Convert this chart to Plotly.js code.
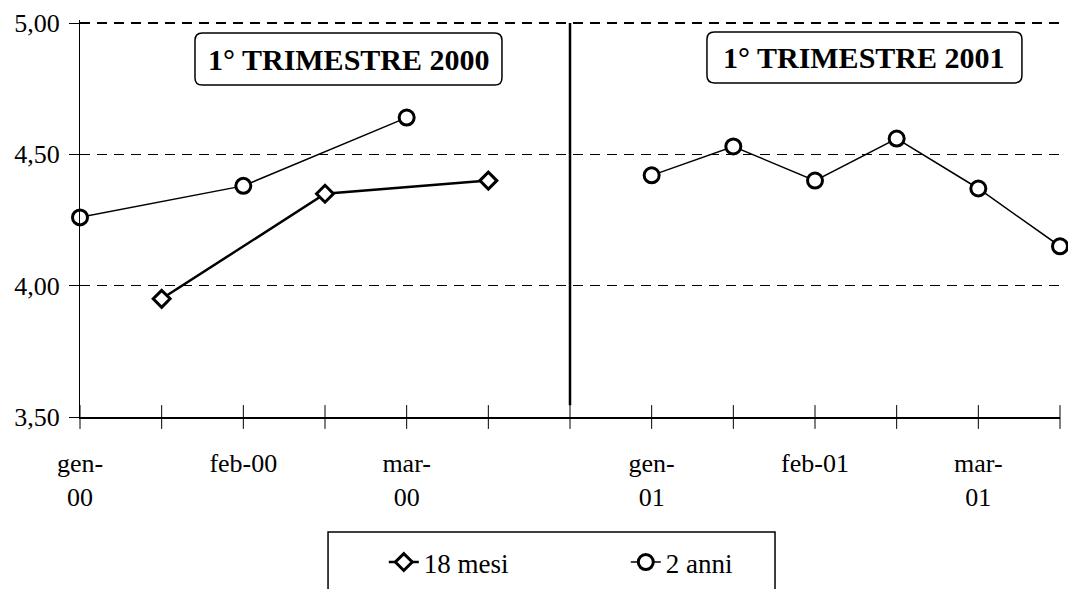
<!DOCTYPE html>
<html>
<head>
<meta charset="utf-8">
<script src="https://cdn.plot.ly/plotly-3.0.1.min.js"></script>
<style>html,body{margin:0;padding:0;background:#fff;}#chart{width:1068px;height:589px;}</style>
</head>
<body>
<div id="chart"></div>
<script>
// Slots along the x axis (half-month steps), 0..12
const slotCount = 13;
const tickPositions = [0, 2, 4, 7, 9, 11];
const tickLabels = ["gen-<br>00", "feb-00", "mar-<br>00", "gen-<br>01", "feb-01", "mar-<br>01"];

// Series: 18 mesi
const x18mesi = [1, 3, 5];
const y18mesi = [3.95, 4.35, 4.40];

// Series: 2 anni (null separates the two quarters)
const x2anni = [0, 2, 4, null, 7, 8, 9, 10, 11, 12];
const y2anni = [4.26, 4.38, 4.64, null, 4.42, 4.53, 4.40, 4.56, 4.37, 4.15];

// Y ticks
const yTickVals = [3.5, 4.0, 4.5, 5.0];
const yTickText = ["3,50", "4,00", "4,50", "5,00"];

// Box titles
const boxTitles = ["1° TRIMESTRE 2000", "1° TRIMESTRE 2001"];

const FONT = "Liberation Serif";

const allSlots = Array.from({length: slotCount}, (_, i) => i);
const tickText = allSlots.map(i => {
  const k = tickPositions.indexOf(i);
  return k >= 0 ? tickLabels[k] : "";
});
const yMin = yTickVals[0];

function roundRect(x0, x1, y0, y1, rx, ry) {
  return `M ${x0+rx},${y0} L ${x1-rx},${y0} Q ${x1},${y0} ${x1},${y0+ry} ` +
         `L ${x1},${y1-ry} Q ${x1},${y1} ${x1-rx},${y1} L ${x0+rx},${y1} ` +
         `Q ${x0},${y1} ${x0},${y1-ry} L ${x0},${y0+ry} Q ${x0},${y0} ${x0+rx},${y0} Z`;
}

const traces = [
  {
    // crossing tick marks on the category axis
    x: allSlots, y: allSlots.map(() => yMin), type: "scatter", mode: "markers",
    marker: {symbol: "line-ns-open", size: 17, color: "#000", line: {color: "#000", width: 1}},
    showlegend: false, hoverinfo: "skip", cliponaxis: false
  },
  {
    x: x18mesi, y: y18mesi, name: "18 mesi", type: "scatter", mode: "lines+markers",
    line: {color: "#000", width: 2.5},
    marker: {symbol: "diamond", size: 13, color: "#fff", line: {color: "#000", width: 3}},
    cliponaxis: false
  },
  {
    x: x2anni, y: y2anni, name: "2 anni", type: "scatter", mode: "lines+markers",
    line: {color: "#000", width: 1.5},
    marker: {symbol: "circle", size: 15, color: "#fff", line: {color: "#000", width: 3}},
    connectgaps: false,
    cliponaxis: false
  }
];

const layout = {
  width: 1068, height: 589,
  margin: {l: 80, r: 8, t: 20, b: 172},
  paper_bgcolor: "#fff", plot_bgcolor: "#fff",
  font: {family: FONT, color: "#000", size: 26},
  showlegend: true,
  legend: {
    orientation: "h", xref: "paper", yref: "container",
    x: 0.310, xanchor: "left", y: 0.0866, yanchor: "top",
    font: {family: FONT, size: 27, color: "#000"},
    bgcolor: "rgba(0,0,0,0)", borderwidth: 0,
    entrywidth: 197, entrywidthmode: "pixels"
  },
  xaxis: {
    range: [0, 12], tickmode: "array", tickvals: allSlots, ticktext: tickText,
    ticks: "", showline: true, linecolor: "#000", linewidth: 1.5,
    showgrid: false, zeroline: false, ticklabelstandoff: 22,
    tickfont: {family: FONT, size: 26, color: "#000"}, tickangle: 0
  },
  yaxis: {
    range: [3.5, 5.0115], tickmode: "array", tickvals: yTickVals, ticktext: yTickText,
    ticks: "outside", ticklen: 10, tickwidth: 1, tickcolor: "#000",
    showline: true, linecolor: "#000", linewidth: 1,
    showgrid: true, gridcolor: "#000", gridwidth: 1.5, griddash: "10px,7px",
    zeroline: false, ticklabelstandoff: 4,
    tickfont: {family: FONT, size: 26, color: "#000"}
  },
  shapes: [
    {type: "line", xref: "x", yref: "y", x0: 6, x1: 6, y0: 3.545, y1: 5.0,
     line: {color: "#000", width: 2.5}},
    {type: "path", xref: "x", yref: "y", path: roundRect(1.408, 5.167, 4.764, 4.962, 0.09, 0.028),
     line: {color: "#000", width: 1.5}, fillcolor: "rgba(0,0,0,0)"},
    {type: "path", xref: "x", yref: "y", path: roundRect(7.677, 11.534, 4.772, 4.966, 0.09, 0.028),
     line: {color: "#000", width: 1.5}, fillcolor: "rgba(0,0,0,0)"},
    {type: "rect", xref: "paper", yref: "paper", x0: 0.2531, x1: 0.7092, y0: -0.47, y1: -0.2897,
     line: {color: "#000", width: 1.5}, fillcolor: "rgba(0,0,0,0)"}
  ],
  annotations: [
    {x: 3.288, y: 4.863, xref: "x", yref: "y", text: "<b>" + boxTitles[0] + "</b>", showarrow: false,
     font: {family: FONT, size: 30, color: "#000"}, xanchor: "center", yanchor: "middle"},
    {x: 9.606, y: 4.869, xref: "x", yref: "y", text: "<b>" + boxTitles[1] + "</b>", showarrow: false,
     font: {family: FONT, size: 30, color: "#000"}, xanchor: "center", yanchor: "middle"}
  ]
};

Plotly.newPlot("chart", traces, layout, {displayModeBar: false, staticPlot: true});
</script>
</body>
</html>
